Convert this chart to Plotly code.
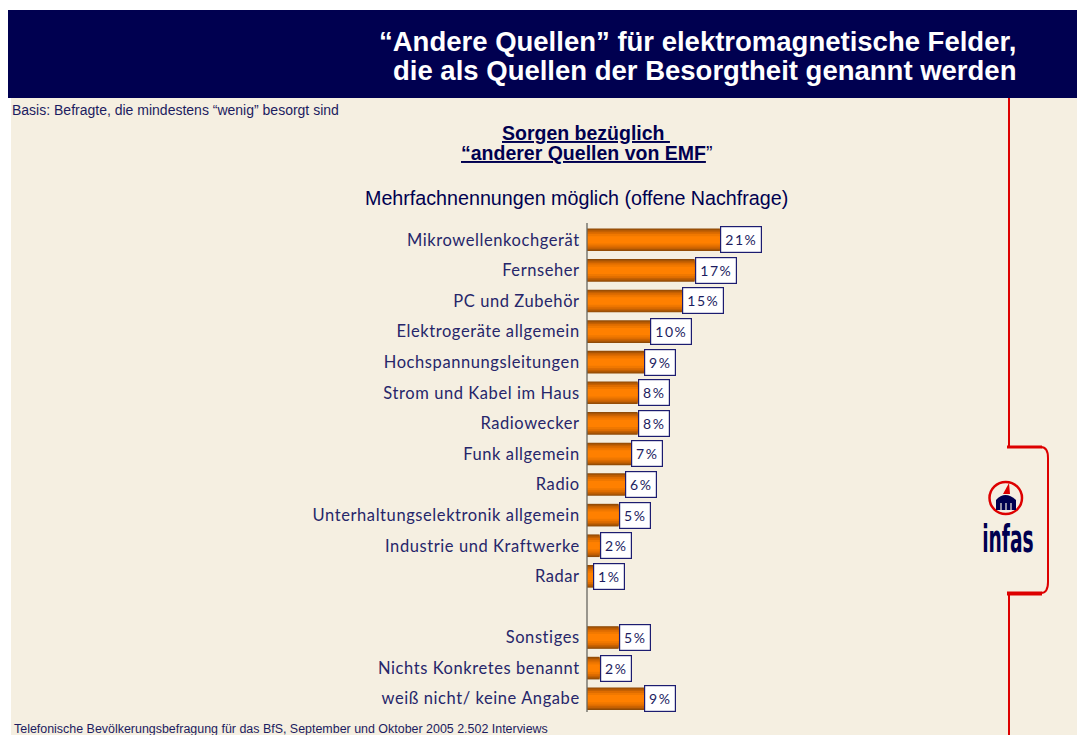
import plotly.graph_objects as go

categories = ["Mikrowellenkochgerät", "Fernseher", "PC und Zubehör", "Elektrogeräte allgemein",
              "Hochspannungsleitungen", "Strom und Kabel im Haus", "Radiowecker", "Funk allgemein",
              "Radio", "Unterhaltungselektronik allgemein", "Industrie und Kraftwerke", "Radar",
              " ", "Sonstiges", "Nichts Konkretes benannt", "weiß nicht/ keine Angabe"]
values = [21, 17, 15, 10, 9, 8, 8, 7, 6, 5, 2, 1, None, 5, 2, 9]
title_lines = ["“Andere Quellen” für elektromagnetische Felder,",
               "die als Quellen der Besorgtheit genannt werden"]
basis = "Basis: Befragte, die mindestens “wenig” besorgt sind"
footer = "Telefonische Bevölkerungsbefragung für das BfS, September und Oktober 2005 2.502 Interviews"
sub_note = "Mehrfachnennungen möglich (offene Nachfrage)"

W, H = 1077, 735
BEIGE = "#F5EFE1"
NAVY = "#000050"
INK = "#1C1C60"
LABEL = "#26266A"
RED = "#DD0000"

# px -> paper helpers
px = lambda x: x / W
py = lambda y: 1 - y / H

# layered bars imitate the vertical metal-like gradient
layers = [(0.74, "#8F4A06"), (0.68, "#A85404"), (0.60, "#C46002"),
          (0.50, "#DE6C00"), (0.38, "#F07800"), (0.24, "#FF8000")]

fig = go.Figure()
for w, c in layers:
    fig.add_trace(go.Bar(y=categories, x=values, orientation="h", width=w,
                         marker=dict(color=c, line=dict(width=0)),
                         showlegend=False, hoverinfo="skip"))

annotations = []
for cat, v in zip(categories, values):
    if v is None:
        continue
    annotations.append(dict(
        x=v, y=cat, xref="x", yref="y", xanchor="left", yanchor="middle", showarrow=False,
        text=f'<span style="letter-spacing:1.4px">{v}%</span>',
        font=dict(family="Lato", size=14, color=INK),
        bgcolor="white", bordercolor="#1C1C70", borderwidth=1.2,
        width=40 if v >= 10 else 30, height=24.5, align="center", borderpad=0))


def txt(x, y, s, size, color=INK, anchor="left", family="Liberation Sans"):
    annotations.append(dict(x=px(x), y=py(y), xref="paper", yref="paper", xanchor=anchor,
                            yanchor="middle", showarrow=False, text=s, align=anchor,
                            font=dict(family=family, size=size, color=color)))


txt(1018, 41.5, f"<b>{title_lines[0]}</b>", 27.5, "white", "right")
txt(1018, 70.5, f"<b>{title_lines[1]}</b>", 27.5, "white", "right")
txt(10, 110.5, basis, 14)
u = "font-weight:bold;text-decoration:underline"
txt(586, 133, f'<span style="{u}">Sorgen bezüglich </span>', 19.5, NAVY, "center")
txt(586, 153, f'<span style="{u}">“anderer Quellen von EMF</span>”', 19.5, NAVY, "center")
txt(576.5, 198, sub_note, 19.7, NAVY, "center")
txt(12, 729, footer, 12.45)
annotations.append(dict(x=px(1007.5), y=py(539), xref="paper", yref="paper", xanchor="center",
                        yanchor="middle", showarrow=False,
                        text="<b>infas</b>",
                        font=dict(family="DejaVu Sans Condensed", size=37, color=NAVY)))

slits = [1001, 1006, 1011]
shapes = [
    dict(type="rect", xref="paper", yref="paper", x0=px(11), x1=1, y0=0, y1=py(98),
         fillcolor=BEIGE, line_width=0, layer="below"),
    dict(type="rect", xref="paper", yref="paper", x0=px(8), x1=1, y0=py(98), y1=py(10),
         fillcolor=NAVY, line_width=0, layer="below"),
    # value axis baseline
    dict(type="line", xref="paper", yref="paper", x0=px(587), x1=px(587), y0=py(223), y1=py(712),
         line=dict(color="#666660", width=1.3)),
    # red side rule and bracket
    dict(type="line", xref="paper", yref="paper", x0=px(1009), x1=px(1009), y0=py(98), y1=py(447),
         line=dict(color=RED, width=2)),
    dict(type="line", xref="paper", yref="paper", x0=px(1009), x1=px(1009), y0=py(593), y1=0,
         line=dict(color=RED, width=2)),
    dict(type="line", xref="paper", yref="paper", x0=px(1007), x1=px(1042), y0=py(447), y1=py(447),
         line=dict(color=RED, width=3)),
    dict(type="line", xref="paper", yref="paper", x0=px(1007), x1=px(1042), y0=py(593.5), y1=py(593.5),
         line=dict(color=RED, width=4)),
    dict(type="path", xref="paper", yref="paper",
         path=f"M {px(1041)} {py(447)} Q {px(1048)} {py(447)} {px(1048)} {py(458)} "
              f"L {px(1048)} {py(582)} Q {px(1048)} {py(593)} {px(1041)} {py(593)}",
         line=dict(color=RED, width=2)),
    # logo
    dict(type="circle", xref="paper", yref="paper", x0=px(989.5), x1=px(1022), y0=py(514), y1=py(482),
         line=dict(color=RED, width=2.5)),
    dict(type="path", xref="paper", yref="paper",
         path=f"M {px(996)} {py(510)} L {px(996)} {py(500)} Q {px(1005)} {py(490)} {px(1016)} {py(500)} "
              f"L {px(1016)} {py(510)} Z",
         fillcolor=NAVY, line_width=0),
    dict(type="path", xref="paper", yref="paper",
         path=f"M {px(1003)} {py(494)} L {px(1009)} {py(483)} L {px(1010)} {py(494)} Z",
         fillcolor=RED, line_width=0),
] + [dict(type="line", xref="paper", yref="paper", x0=px(s), x1=px(s), y0=py(503), y1=py(510),
          line=dict(color=BEIGE, width=1.2)) for s in slits]

tick_text = [f'<span style="letter-spacing:0.58px">{c}</span>' for c in categories]

fig.update_layout(
    width=W, height=H, autosize=False, margin=dict(l=0, r=0, t=0, b=0),
    paper_bgcolor="white", plot_bgcolor="rgba(0,0,0,0)", barmode="overlay",
    bargap=0.26, showlegend=False, shapes=shapes, annotations=annotations,
    xaxis=dict(domain=[px(587), 1], range=[0, (W - 587) / 6.33], visible=False, fixedrange=True),
    yaxis=dict(domain=[py(714), py(224.5)], type="category", categoryorder="array",
               categoryarray=categories, autorange="reversed",
               tickmode="array", tickvals=categories, ticktext=tick_text,
               showgrid=False, zeroline=False, showline=False,
               ticks="outside", ticklen=3, tickcolor="rgba(0,0,0,0)",
               tickfont=dict(family="Lato", size=16.5, color=LABEL)),
)

post = """
document.body.style.margin='0';document.body.style.overflow='hidden';
document.querySelectorAll('text').forEach(function(t){
  if(t.textContent.trim()==='infas'){
    t.style.transformBox='fill-box';t.style.transformOrigin='center';t.style.transform='scaleX(0.56)';
  }
});
"""
fig.write_html("out.html", config={"displayModeBar": False}, post_script=post)
